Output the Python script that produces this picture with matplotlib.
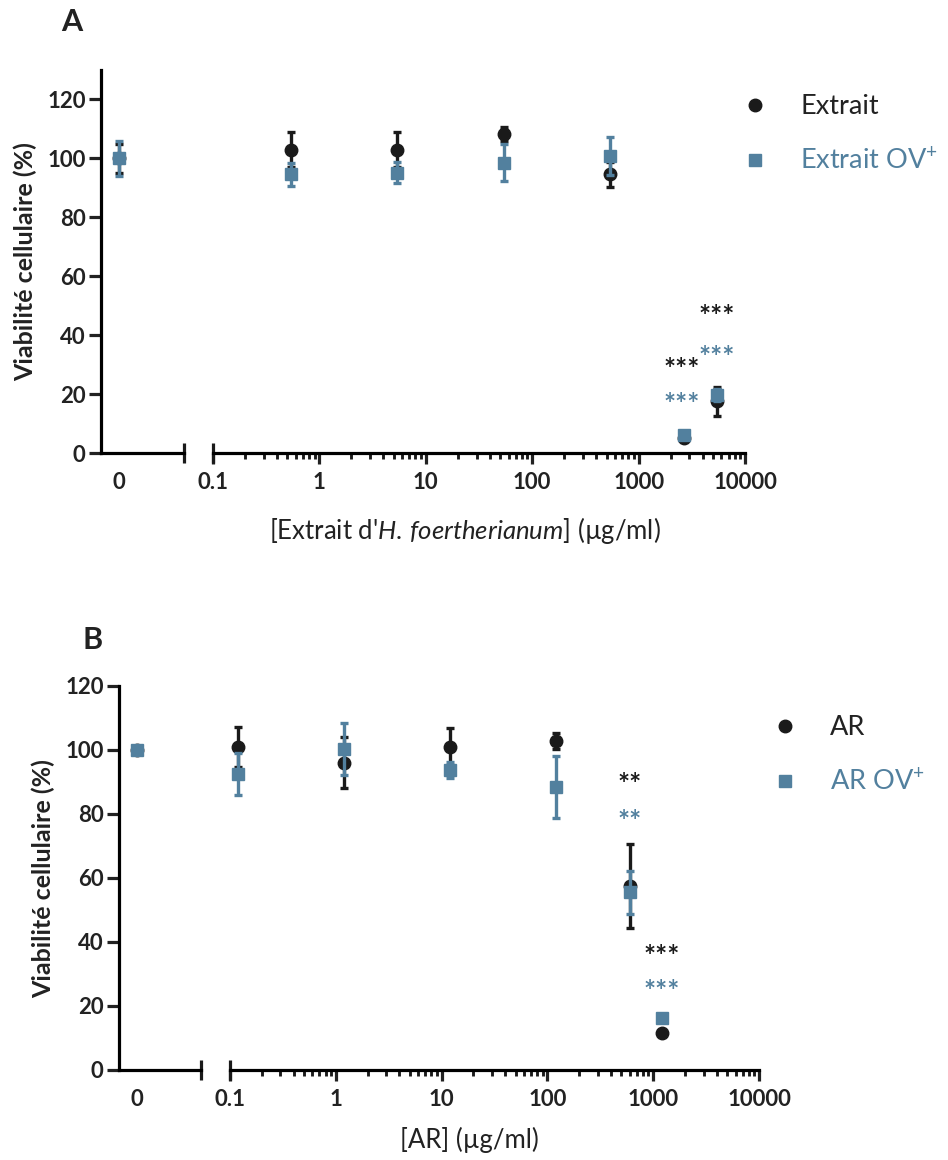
import matplotlib
matplotlib.use("Agg")
import matplotlib.pyplot as plt
from matplotlib.lines import Line2D
import numpy as np

plt.rcParams['font.family'] = ['Lato', 'DejaVu Sans']
plt.rcParams['mathtext.fontset'] = 'custom'
plt.rcParams['mathtext.rm'] = 'Lato'
plt.rcParams['mathtext.it'] = 'Lato:italic'
plt.rcParams['mathtext.bf'] = 'Lato:bold'

BLACK = '#1a1a1a'
BLUE = '#52809e'
TXT = '#222222'

# ---------------- Data: panel A ----------------
conc_A = [0.54, 5.4, 54, 540, 2700, 5400]
ctrl_A_extrait, ctrl_A_extrait_err = 100, 5
ctrl_A_ov, ctrl_A_ov_err = 100, 6
extrait_mean = [103, 103, 108.2, 94.6, 5, 17.5]
extrait_err = [5.8, 6, 2.3, 4.3, 1, 5]
extrait_ov_mean = [94.6, 95.2, 98.6, 100.7, 6.1, 19.7]
extrait_ov_err = [4, 3.5, 6.3, 6.5, 1, 2]
stars_A_x = [2700, 5400]
stars_A_black = ['***', '***']
stars_A_black_y = [31, 49]
stars_A_blue = ['***', '***']
stars_A_blue_y = [19, 35]

# ---------------- Data: panel B ----------------
conc_B = [0.12, 1.2, 12, 120, 600, 1200]
ctrl_B_ar, ctrl_B_ar_err = 100, 0
ctrl_B_ov, ctrl_B_ov_err = 100, 0
ar_mean = [101, 96, 101, 102.8, 57.5, 11.7]
ar_err = [6.2, 8, 5.8, 2.5, 13, 0]
ar_ov_mean = [92.4, 100.3, 93.8, 88.3, 55.6, 16.3]
ar_ov_err = [6.6, 8.2, 2.5, 9.7, 6.7, 0]
stars_B_x = [600, 1200]
stars_B_black = ['**', '***']
stars_B_black_y = [91.5, 37.8]
stars_B_blue = ['**', '***']
stars_B_blue_y = [80, 26.9]

yticks = [0, 20, 40, 60, 80, 100, 120]
xticks_log = [0.1, 1, 10, 100, 1000, 10000]
xticklabels_log = ['0.1', '1', '10', '100', '1000', '10000']

W, H = 948, 1160
fig = plt.figure(figsize=(W / 100, H / 100), dpi=100)


def rect(x0, x1, ytop, ybot):
    return [x0 / W, 1 - ybot / H, (x1 - x0) / W, (ybot - ytop) / H]


LW = 2.3
TFS = 16


def make_panel(yx, x_split, x_log0, x_log1, ytop, ybot, ymax, ctrl_xfrac):
    ax0 = fig.add_axes(rect(yx, x_split, ytop, ybot))
    ax1 = fig.add_axes(rect(x_log0, x_log1, ytop, ybot), sharey=ax0)
    xr = 1.0 / ctrl_xfrac - 1.0
    ax0.set_xlim(-1, xr)
    ax0.set_ylim(0, ymax)
    for a in (ax0, ax1):
        a.spines['top'].set_visible(False)
        a.spines['right'].set_visible(False)
        a.spines['bottom'].set_linewidth(LW)
        a.spines['left'].set_linewidth(LW)
        a.set_facecolor('none')
    ax1.spines['left'].set_visible(False)
    ax0.set_yticks(yticks)
    ax0.tick_params(axis='y', direction='out', length=9, width=LW,
                    labelsize=TFS, pad=2, colors=TXT)
    for lab in ax0.get_yticklabels():
        lab.set_fontweight('bold')
    ax0.set_xticks([0])
    ax0.set_xticklabels(['0'])
    ax0.tick_params(axis='x', length=0, pad=14, labelsize=TFS, colors=TXT)
    for lab in ax0.get_xticklabels():
        lab.set_fontweight('bold')
    ax0.axvline(xr, ymin=-0.025, ymax=0.025, color=BLACK, lw=LW, clip_on=False,
                solid_capstyle='butt')
    ax1.tick_params(axis='y', left=False, labelleft=False)
    ax1.set_xscale('log')
    ax1.set_xlim(0.1, 10000)
    ax1.set_xticks(xticks_log)
    ax1.set_xticklabels(xticklabels_log)
    ax1.xaxis.set_minor_locator(matplotlib.ticker.LogLocator(base=10, subs=np.arange(2, 10)))
    ax1.xaxis.set_minor_formatter(matplotlib.ticker.NullFormatter())
    ax1.tick_params(axis='x', which='major', direction='out', length=8, width=LW,
                    labelsize=TFS, pad=6, colors=TXT)
    ax1.tick_params(axis='x', which='minor', direction='out', length=4, width=LW * 0.9,
                    colors=BLACK)
    for lab in ax1.get_xticklabels():
        lab.set_fontweight('bold')
    ax1.axvline(0.1, ymin=-0.027, ymax=0.027, color=BLACK, lw=LW, clip_on=False,
                solid_capstyle='butt')
    return ax0, ax1


ebkw = dict(linestyle='none', elinewidth=2.4, capsize=3.2, capthick=2.4, clip_on=False)


def draw_series(ax0, ax1, conc, ctrl_m, ctrl_e, mean, err, color, marker, ms, z):
    ax0.errorbar([0], [ctrl_m], yerr=[ctrl_e], color=color, marker=marker, ms=ms,
                 zorder=z, **ebkw)
    ax1.errorbar(conc, mean, yerr=err, color=color, marker=marker, ms=ms,
                 zorder=z, **ebkw)


SFS = 20.5


def stars(ax, xs, labels, ys, color, dx_pts):
    for x, s, y, dx in zip(xs, labels, ys, dx_pts):
        ax.annotate(s, (x, y), xytext=(dx, -0.56 * SFS), textcoords='offset points',
                    color=color, fontsize=SFS, ha='center', va='baseline',
                    fontweight='bold')


def legend(handles, labels, x_marker, y_marker):
    fs = 19.5
    fpx = fs * 100 / 72
    fig.legend(handles, labels, loc='upper left',
               bbox_to_anchor=((x_marker - 0.5 * fpx) / W, 1 - (y_marker - 0.4 * fpx) / H),
               frameon=False, fontsize=fs, handlelength=1.0, handletextpad=1.17,
               labelspacing=1.02, borderpad=0, borderaxespad=0,
               labelcolor=[TXT, BLUE])


# ---------------- Panel A ----------------
axA0, axA1 = make_panel(101, 184, 213, 745, 70, 453, 130, (119 - 101) / (184 - 101))
draw_series(axA0, axA1, conc_A, ctrl_A_extrait, ctrl_A_extrait_err,
            extrait_mean, extrait_err, BLACK, 'o', 9, 3)
draw_series(axA0, axA1, conc_A, ctrl_A_ov, ctrl_A_ov_err,
            extrait_ov_mean, extrait_ov_err, BLUE, 's', 8.5, 4)
stars(axA1, stars_A_x, stars_A_black, stars_A_black_y, BLACK, [-2.2, 0])
stars(axA1, stars_A_x, stars_A_blue, stars_A_blue_y, BLUE, [-2.2, 0])

fig.text(465 / W, 1 - 531 / H,
         r"[Extrait d'$\mathit{H.\,foertherianum}$] (µg/ml)",
         ha='center', va='center', fontsize=18.5, color=TXT)
fig.text(25 / W, 1 - 262 / H, 'Viabilité cellulaire (%)', rotation=90,
         ha='center', va='center', fontsize=18, fontweight='bold', color=TXT)
fig.text(72 / W, 1 - 22 / H, 'A', ha='center', va='center', fontsize=22,
         fontweight='bold', color=TXT)

hA = [Line2D([], [], color=BLACK, marker='o', ms=9, ls='none'),
      Line2D([], [], color=BLUE, marker='s', ms=8.5, ls='none')]
legend(hA, ['Extrait', 'Extrait OV$^{+}$'], 755, 105)

# ---------------- Panel B ----------------
axB0, axB1 = make_panel(119, 201, 230, 759, 686, 1070, 120, (137 - 119) / (201 - 119))
draw_series(axB0, axB1, conc_B, ctrl_B_ar, ctrl_B_ar_err,
            ar_mean, ar_err, BLACK, 'o', 9, 3)
draw_series(axB0, axB1, conc_B, ctrl_B_ov, ctrl_B_ov_err,
            ar_ov_mean, ar_ov_err, BLUE, 's', 8.5, 4)
stars(axB1, stars_B_x, stars_B_black, stars_B_black_y, BLACK, [0, 0])
stars(axB1, stars_B_x, stars_B_blue, stars_B_blue_y, BLUE, [0, 0])

fig.text(469 / W, 1 - 1140 / H, '[AR] (µg/ml)', ha='center', va='center',
         fontsize=18.5, color=TXT)
fig.text(43 / W, 1 - 879 / H, 'Viabilité cellulaire (%)', rotation=90,
         ha='center', va='center', fontsize=18, fontweight='bold', color=TXT)
fig.text(93 / W, 1 - 640 / H, 'B', ha='center', va='center', fontsize=22,
         fontweight='bold', color=TXT)

hB = [Line2D([], [], color=BLACK, marker='o', ms=9, ls='none'),
      Line2D([], [], color=BLUE, marker='s', ms=8.5, ls='none')]
legend(hB, ['AR', 'AR OV$^{+}$'], 785, 726)

fig.savefig('out.png', dpi=100)
